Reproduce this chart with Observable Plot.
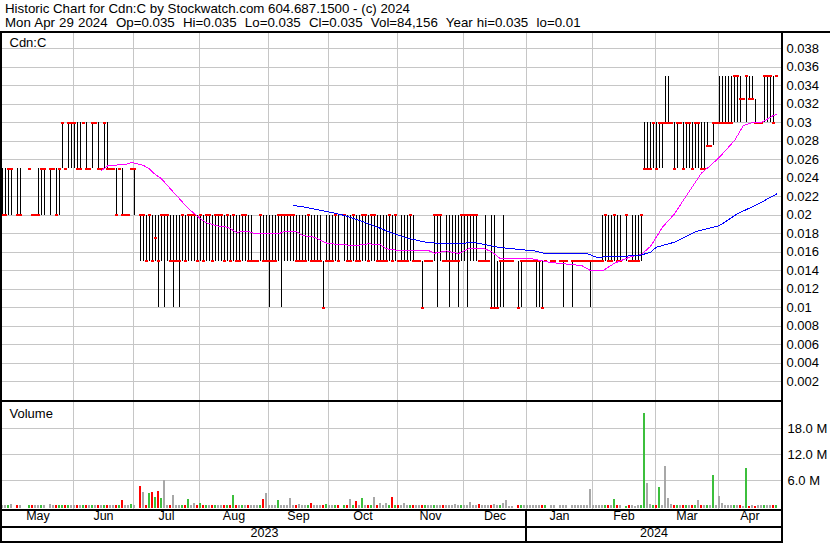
<!DOCTYPE html>
<html><head><meta charset="utf-8">
<script src="https://cdn.jsdelivr.net/npm/d3@7"></script>
<script src="https://cdn.jsdelivr.net/npm/@observablehq/plot@0.6"></script>
<style>
body{margin:0;background:#fff;}
#wrap{position:relative;width:830px;height:543px;overflow:hidden;font-family:"Liberation Sans",Arial,sans-serif;background:#fff;}
.hl{position:absolute;left:5px;font-size:13.3px;line-height:13.3px;white-space:pre;color:#000;}
#price{position:absolute;left:0;top:33px;}
#vol{position:absolute;left:0;top:402px;}
.rule{position:absolute;background:#000;z-index:5;}
</style></head>
<body><div id="wrap"></div>
<script>
const titleLines = [
  "Historic Chart for Cdn:C by Stockwatch.com 604.687.1500 - (c) 2024",
  "Mon Apr 29 2024  Op=0.035  Hi=0.035  Lo=0.035  Cl=0.035  Vol=84,156  Year hi=0.035  lo=0.01"
];
const symbol = "Cdn:C";
const volumeTitle = "Volume";
const months = ["May","Jun","Jul","Aug","Sep","Oct","Nov","Dec","Jan","Feb","Mar","Apr"];
const monthStart = [0,24,44,66,89,109,132,154,175,197,218,239];
const years = ["2023","2024"];
const yearStartMonth = [0,8];
const priceTicks = [0.002,0.004,0.006,0.008,0.01,0.012,0.014,0.016,0.018,0.02,0.022,0.024,0.026,0.028,0.03,0.032,0.034,0.036,0.038];
const volTicks = [6,12,18];

// daily bars (trading-day index), null = no trade
const low = [
.02,.02,.02,.02,null,.02,.02,null,null,.025, .02,.02,.02,.02,.02,null,.02,.025,.02,.02, .025,.025,.025,.025,
.025,.025,.025,.03,.025,.025, .025,.03,.025,.025,.025,.025,.025,.025,.02,.025, .02,.02,.02,.025,
.02,null,.015,.015,.015,.015, .015,.015,.01,.015,.01,.015,.015,.01,.015,.01, .015,.015,.015,.015,.015,.015,
.015,.015,.015,.015, .015,.015,.015,.015,.015,.015,.015,.015,.015,.015, .015,.015,.015,.015,.015,.015,.015,.015,.015,
.01, .015,.015,.015,.01,.015,.015,.015,.015,.015,.015, .015,.015,.015,.015,.015,.015,.015,.01,.015,
.015, .015,.015,.015,null,.015,.015,.015,.015,.015,.015, .015,.015,.015,.015,.015,.015,.015,.015,.015,.015, .015,.015,
.015,.015,.015,.015,.015,.015,.015,.015, .01,.015,.015,.015,.015,.01,.015,.015,.015,.01, .015,.015,.01,.015,
.015,.01,.015,.015,.015,.015, .015,.015,.015,.01,.01,.01,.01,.01,.015,.015, .015,null,.01,.01,.015,
.015,.015,.015,.01,.01, .01,.015,null,.015,.015,null,.015,.01,.015,null, .01,.015,.015,.015,.015,.015,.01,
.015,.015,.015, .015,.015,.015,.015,.015,.015,.015,null,.015,.015, .015,.015,.015,.015,.025,.025,.025,.025,
.025,.025, .025,.03,.03,.03,.025,.025,.03,.025,.025,.025, .025,.025,.025,.025,.025,.0275,.0275,.0275,.03,
.03, .03,.03,.03,.03,.03,.03,.03,.0325,.03,.0325, .0325,.03,.03,.03,.03,.03,.03,.03,.035
];
const high = [
.025,.025,.025,.025,null,.025,.025,null,null,.025, .02,.02,.025,.025,.025,null,.025,.025,.025,.025, .03,.025,.03,.03,
.03,.03,.03,.03,.03,.025, .03,.03,.03,.025,.03,.03,.025,.025,.025,.025, .025,.02,.02,.025,
.025,null,.02,.02,.02,.02, .02,.02,.02,.02,.02,.02,.02,.02,.02,.02, .02,.02,.02,.02,.02,.02,
.02,.02,.02,.02, .02,.02,.02,.02,.02,.02,.02,.02,.02,.02, .02,.02,.02,.02,.015,.015,.02,.02,.02,
.02, .02,.02,.02,.02,.02,.02,.02,.02,.02,.02, .02,.02,.02,.02,.02,.02,.02,.015,.02,
.02, .02,.02,.02,null,.02,.02,.02,.02,.02,.02, .02,.02,.02,.02,.02,.02,.02,.02,.02,.02, .02,.02,
.015,.02,.02,.02,.02,.02,.015,.015, .015,.015,.015,.015,.02,.02,.02,.015,.02,.02, .02,.02,.02,.02,
.02,.02,.02,.02,.02,.015, .015,.02,.015,.02,.02,.015,.015,.02,.015,.015, .015,null,.015,.015,.015,
.015,.015,.015,.015,.015, .015,.015,null,.015,.015,null,.015,.015,.015,null, .015,.015,.015,.015,.015,.015,.015,
.015,.015,.015, .02,.02,.02,.02,.02,.02,.02,null,.02,.015, .02,.02,.02,.02,.03,.03,.03,.03,
.03,.03, .03,.035,.035,.03,.03,.03,.03,.03,.03,.03, .03,.03,.03,.03,.03,.03,.0275,.03,.03,
.035, .035,.035,.035,.035,.035,.035,.035,.0325,.035,.035, .035,.0325,.03,.03,.035,.035,.035,.035,.035
];
const close = [
.02,.02,.025,.025,null,.02,.02,null,null,.025, .02,.02,.02,.025,.025,null,.025,.025,.02,.025, .03,.025,.03,.03,
.03,.025,.025,.03,.025,.025, .03,.03,.025,.025,.03,.025,.025,.025,.02,.025, .02,.02,.02,.025,
.025,null,.02,.02,.015,.02, .015,.0175,.015,.02,.02,.02,.015,.015,.015,.015, .02,.015,.02,.02,.02,.015,
.02,.015,.02,.02, .015,.02,.02,.02,.015,.02,.015,.02,.015,.015, .02,.02,.015,.015,.015,.015,.02,.015,.015,
.015, .015,.015,.02,.02,.02,.02,.02,.02,.015,.015, .015,.015,.02,.015,.015,.015,.015,.01,.015,
.015, .015,.02,.015,null,.02,.015,.015,.02,.015,.015, .02,.02,.015,.02,.02,.015,.015,.015,.015,.02, .015,.02,
.015,.015,.015,.015,.02,.015,.015,.015, .01,.015,.015,.015,.02,.02,.02,.015,.015,.015, .015,.015,.015,.02,
.02,.02,.02,.02,.02,.015, .015,.015,.015,.01,.01,.01,.015,.015,.015,.015, .015,null,.01,.015,.015,
.015,.015,.015,.015,.015, .01,.015,null,.015,.015,null,.015,.015,.015,null, .015,.015,.015,.015,.015,.015,.015,
.015,.015,.015, .015,.02,.015,.015,.02,.015,.015,null,.02,.015, .015,.015,.015,.02,.025,.025,.025,.03,
.025,.03, .03,.03,.03,.03,.025,.03,.03,.025,.03,.03, .025,.03,.03,.025,.025,.0275,.0275,.03,.03,
.03, .03,.03,.03,.03,.035,.035,.0325,.0325,.035,.0325, .0325,.03,.03,.03,.035,.035,.035,.03,.035
];
// volume in millions of shares
const volume = [
.2,.2,.1,.4,0,.1,.1,0,0,.1, .3,.1,.1,.2,.2,0,.4,.1,.1,.2, .2,.3,.1,.2,
.1,.1,.1,.1,.1,.1, .1,.1,.1,.1,.1,.1,.1,.1,.1,.1, 1.4,.2,.1,.4,
.1,0,4.7,3.3,.2,3.0, 3.1,2.1,3.4,1.8,6.1,.3,.2,2.5,.2,.3, .2,.1,1.6,.2,.6,.2,
.6,.2,.2,.1, .1,.1,.1,.1,.1,.1,.2,2.5,.2,.1, .2,.1,.2,.1,.1,.2,.2,1.6,3.0,
.1, .3,.3,1.3,.2,.2,.1,1.8,.2,.1,.4, .1,.1,.2,.6,.1,.2,.2,.2,.4,
.1, .1,.2,.2,0,.1,.1,1.6,.1,1.2,.1, 1.8,.2,.1,.1,2.1,.1,.6,.1,.6,.2, 2.1,.2,
.1,.1,.6,.1,.1,.1,.1,.1, .1,.1,.1,.1,.1,.1,.1,.1,.1,.1, .1,.4,.1,.2,
.1,.3,1.0,.2,.1,.4, .1,.2,.1,.1,.4,.1,.1,.6,1.3,.05, .05,0,.1,.2,.1,
.1,.1,.1,.1,.1, .1,.1,0,.1,.1,0,.1,.1,.1,0, .1,.1,.3,.1,.1,.2,3.9,
.3,.1,.1, .1,.1,.1,.1,1.6,.3,.1,0,.05,.3, .1,.05,.1,.3,21.5,5.3,.4,.1,
.3,4.4, .1,9.3,1.9,.4,.1,.1,.3,.1,.2,.1, .1,.1,1.3,.2,.1,.1,.1,7.2,.1,
2.3, .6,.3,.3,.2,.1,.1,.2,.05,8.8,.05, .2,.05,.2,.1,.1,.1,.1,.1,.084
];
// moving averages (bar index, value)
const pinkAt = [33,35,38,42,43,45,47,49,50,53,55,57,59,62,64,66,68,72,75,78,82,84,92,94,98,100,104,108,112,118,122,126,128,132,142,144,148,152,156,160,163,166,172,176,182,187,193,196,200,204,209,213,216,220,224,228,233,236,239,244,247,250,253,257,258];
const pinkVal = [.0248,.0253,.0254,.02553,.02568,.02553,.02535,.025,.02463,.02391,.02319,.02246,.02175,.02067,.02013,.01959,.01916,.01879,.01868,.01814,.01825,.01797,.01797,.01822,.01822,.01778,.0176,.01697,.01681,.0167,.01689,.01678,.01635,.01616,.01616,.01587,.01611,.01584,.01643,.01643,.01605,.01526,.01526,.0153,.0149,.01473,.01454,.014,.01395,.01479,.01544,.01575,.0166,.01868,.02013,.02211,.02454,.02535,.02625,.02805,.02968,.030,.030,.03076,.03086];
const blueAt = [97,101,109,114,119,125,130,135,141,145,152,157,161,165,170,176,178,181,195,198,206,213,216,218,224,231,239,245,252,258];
const blueVal = [.02103,.02084,.02032,.01995,.01941,.01868,.01803,.01749,.01706,.01695,.01689,.01706,.01678,.01652,.01635,.01616,.01609,.01581,.01581,.01544,.01551,.01568,.01598,.01652,.01706,.0182,.01886,.02013,.02121,.02227];

// ---- build tables ----
const N = close.length;
const rows = [];
let prev = null;
for (let i = 0; i < N; i++) {
  if (close[i] == null) continue;
  const dir = prev == null || close[i] === prev ? "flat" : (close[i] > prev ? "up" : "down");
  rows.push({i, lo: low[i], hi: high[i], c: close[i], v: volume[i], dir});
  prev = close[i];
}
const pink = pinkAt.map((a, k) => ({i: a, v: pinkVal[k]}));
const blue = blueAt.map((a, k) => ({i: a, v: blueVal[k]}));
const X_MAX = 259.667;
const gridIdx = monthStart.slice(1).map(s => s - 1/3);
const bounds = [0, ...gridIdx, X_MAX];
const monthLabels = months.map((m, k) => ({m, x: (bounds[k] + bounds[k + 1]) / 2}));
const yearLabels = years.map((y, k) => {
  const a = bounds[yearStartMonth[k]];
  const b = k + 1 < years.length ? bounds[yearStartMonth[k + 1]] : X_MAX;
  return {y, x: (a + b) / 2};
});

const GRID = "#c6c6c6";
const FONT = "'Liberation Sans', Arial, sans-serif";
const crisp = {shapeRendering: "crispEdges"};

const price = Plot.plot({
  width: 830, height: 367,
  marginTop: 0, marginBottom: 0, marginLeft: 2, marginRight: 49,
  style: {fontFamily: FONT, fontSize: "13px", background: "transparent", overflow: "visible"},
  x: {domain: [0, X_MAX], axis: null},
  y: {domain: [-0.000054, 0.039622], axis: null},
  marks: [
    Plot.ruleY(priceTicks, {stroke: GRID, ...crisp}),
    Plot.ruleX(gridIdx, {stroke: GRID, ...crisp}),
    Plot.ruleX(rows.filter(d => d.hi > d.lo), {x: "i", y1: "lo", y2: "hi", stroke: "#000", ...crisp}),
    Plot.ruleY(rows, {x1: d => d.i - 1/6, x2: d => d.i + 5/6, y: "c", stroke: "#ff0000", strokeWidth: 2, ...crisp}),
    Plot.line(pink, {x: "i", y: "v", stroke: "#ff00ff", strokeWidth: 1, ...crisp}),
    Plot.line(blue, {x: "i", y: "v", stroke: "#0000ff", strokeWidth: 1, ...crisp}),
    Plot.text(priceTicks, {y: d => d, text: d => String(+d.toFixed(3)), frameAnchor: "right", textAnchor: "start", dx: 5, fill: "#000", fontSize: 13}),
    Plot.text([symbol], {frameAnchor: "top-left", textAnchor: "start", lineAnchor: "top", dx: 7, dy: 4, fill: "#000", fontSize: 13})
  ]
});

const colors = {up: "#3cbf3c", down: "#ff0000", flat: "#a8a8a8"};
const VMIN = -0.73;
const vol = Plot.plot({
  width: 830, height: 141,
  marginTop: 0, marginBottom: 34, marginLeft: 2, marginRight: 49,
  style: {fontFamily: FONT, fontSize: "13px", background: "transparent", overflow: "visible"},
  x: {domain: [0, X_MAX], axis: null},
  y: {domain: [VMIN, 24.1], axis: null},
  marks: [
    Plot.ruleY(volTicks, {stroke: GRID, ...crisp}),
    Plot.ruleX(gridIdx, {stroke: GRID, ...crisp}),
    ...["up", "down", "flat"].map(k =>
      Plot.ruleX(rows.filter(d => d.v > 0 && d.dir === k), {x: "i", y1: -0.5, y2: "v", stroke: colors[k], strokeWidth: 2, dx: -0.5, ...crisp})),
    Plot.text(volTicks, {y: d => d, text: d => d.toFixed(1) + " M", frameAnchor: "right", textAnchor: "start", dx: 6, fill: "#000", fontSize: 13}),
    Plot.text([volumeTitle], {frameAnchor: "top-left", textAnchor: "start", lineAnchor: "top", dx: 7, dy: 6, fill: "#000", fontSize: 13}),
    Plot.text(monthLabels, {x: "x", text: "m", frameAnchor: "bottom", dy: 10, fill: "#000", fontSize: 12.5}),
    Plot.text(yearLabels, {x: "x", text: "y", frameAnchor: "bottom", dy: 27, fill: "#000", fontSize: 12.5})
  ]
});

const wrap = document.getElementById("wrap");
titleLines.forEach((t, k) => {
  const d = document.createElement("div");
  d.className = "hl"; d.textContent = t; d.style.top = (1.5 + 14.6 * k) + "px";
  if (k === 1) d.style.wordSpacing = "0.45px";
  wrap.appendChild(d);
});
price.id = "price"; vol.id = "vol";
wrap.appendChild(price); wrap.appendChild(vol);
const xs = vol.scale("x");
const janX = Math.round(xs.apply(gridIdx[yearStartMonth[1] - 1]));
function rule(l, t, w, h) {
  const d = document.createElement("div");
  d.className = "rule";
  Object.assign(d.style, {left: l + "px", top: t + "px", width: w + "px", height: h + "px"});
  wrap.appendChild(d);
}
rule(0, 31, 830, 2);
rule(0, 31, 2, 512);
rule(781, 31, 2, 512);
rule(0, 400, 783, 2);
rule(0, 509, 783, 2);
rule(0, 526, 783, 2);
rule(0, 541, 783, 2);
rule(janX - 1, 511, 2, 30);
</script></body></html>
